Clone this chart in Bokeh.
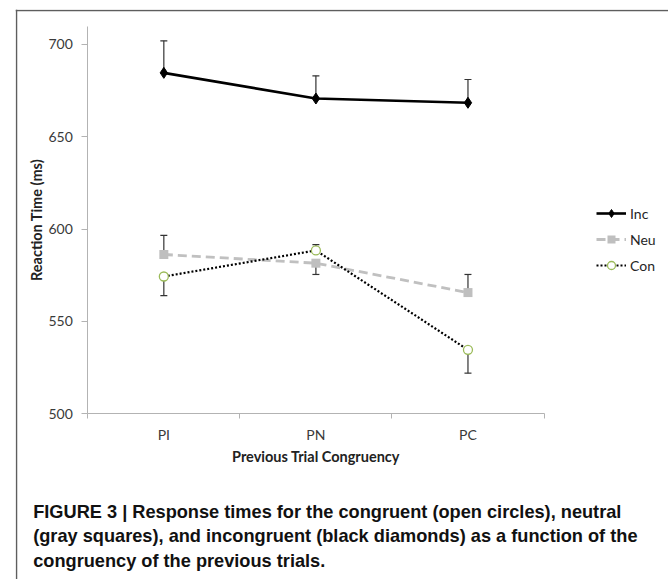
from bokeh.plotting import figure
from bokeh.models import (Range1d, FixedTicker, Whisker, TeeHead, ColumnDataSource,
                          Legend, LegendItem, Label, Span)
from bokeh.embed import file_html
from bokeh.resources import INLINE

# ---- data ----
categories = ["PI", "PN", "PC"]
inc = [684.5, 670.6, 668.3]
neu = [586.2, 581.5, 565.6]
con = [574.3, 588.4, 534.6]
inc_err_up = [17.3, 12.3, 12.6]
inc_err_down = [0, 0, 0]
neu_err_up = [10.4, 0, 9.8]
neu_err_down = [0, 6.1, 0]
con_err_up = [0, 3.1, 0]
con_err_down = [10.3, 0, 12.6]
y_ticks = [500, 550, 600, 650, 700]
y_min, y_max = 500, 709.6
series_names = ["Inc", "Neu", "Con"]
caption_lines = [
    "FIGURE 3 | Response times for the congruent (open circles), neutral",
    "(gray squares), and incongruent (black diamonds) as a function of the",
    "congruency of the previous trials.",
]

# ---- layout (pixels) ----
W, H = 668, 579
FL, FT = 15, 9                 # frame (panel border) origin
PX0, PX1 = 87.3, 543.5         # plot area left/right (page px)
PY_MIN, PY_700 = 413.3, 43.7   # page y of 500 and 700
n = len(categories)
xpx = (PX1 - PX0) / n
ypx = (PY_MIN - PY_700) / (y_ticks[-1] - y_ticks[0])
x_start = 0 - (PX0 - FL) / xpx
x_end = n + (W - PX1) / xpx
y_start = y_min - (H - PY_MIN) / ypx
y_end = y_ticks[-1] + (PY_700 - FT) / ypx

x = [i + 0.5 for i in range(n)]

FONT = "Lato"
AXIS_GRAY = "#b3b3b3"
TEXT = "#3a3a3a"

p = figure(width=W, height=H, output_backend="svg", toolbar_location=None,
           x_range=Range1d(x_start, x_end), y_range=Range1d(y_start, y_end),
           min_border_left=FL, min_border_right=0, min_border_top=FT,
           min_border_bottom=0)
p.outline_line_color = None
p.grid.visible = False

# x axis: labels at category centres, tick marks between categories
xa = p.xaxis[0]
xa.fixed_location = y_min
xa.bounds = (0, n)
xa.ticker = FixedTicker(ticks=x, minor_ticks=list(range(n + 1)))
xa.major_label_overrides = {xi: c for xi, c in zip(x, categories)}
xa.major_tick_out = 0
xa.major_tick_in = 0
xa.minor_tick_out = 5
xa.minor_tick_in = 0
xa.minor_tick_line_color = AXIS_GRAY
xa.axis_line_color = AXIS_GRAY
xa.major_label_text_font = FONT
xa.major_label_text_font_size = "14px"
xa.major_label_text_color = TEXT
xa.major_label_standoff = 7
xa.axis_label = "Previous Trial Congruency"
xa.axis_label_text_font = FONT
xa.axis_label_text_font_style = "bold"
xa.axis_label_text_font_size = "14.5px"
xa.axis_label_text_color = "#222222"
xa.axis_label_standoff = 2

ya = p.yaxis[0]
ya.fixed_location = 0
ya.bounds = (y_min, y_max)
ya.ticker = FixedTicker(ticks=y_ticks, minor_ticks=[])
ya.major_tick_out = 6
ya.major_tick_in = 0
ya.minor_tick_out = 0
ya.minor_tick_in = 0
ya.major_tick_line_color = AXIS_GRAY
ya.axis_line_color = AXIS_GRAY
ya.major_label_text_font = FONT
ya.major_label_text_font_size = "14px"
ya.major_label_text_color = TEXT
ya.major_label_standoff = 9
ya.axis_label = "Reaction Time (ms)"
ya.axis_label_text_font = FONT
ya.axis_label_text_font_style = "bold"
ya.axis_label_text_font_size = "14.5px"
ya.axis_label_text_color = "#222222"
ya.axis_label_standoff = 0

# panel border (left and top edges)
p.add_layout(Span(location=1, location_units="screen", dimension="height",
                  line_color="#5e5e5e", line_width=1.5))
p.add_layout(Span(location=H - FT - 1, location_units="screen", dimension="width",
                  line_color="#5e5e5e", line_width=1.5))

# error bars
def add_whiskers(vals, up, down):
    ub = [xi for xi, e in zip(x, up) if e > 0]
    ul = [v for v, e in zip(vals, up) if e > 0]
    uu = [v + e for v, e in zip(vals, up) if e > 0]
    if ub:
        src = ColumnDataSource(dict(base=ub, lower=ul, upper=uu))
        p.add_layout(Whisker(source=src, base="base", lower="lower", upper="upper",
                             dimension="height", line_color="#333333", line_width=1.2,
                             upper_head=TeeHead(size=7, line_color="#333333", line_width=1.2),
                             lower_head=None, level="underlay"))
    db = [xi for xi, e in zip(x, down) if e > 0]
    du = [v for v, e in zip(vals, down) if e > 0]
    dl = [v - e for v, e in zip(vals, down) if e > 0]
    if db:
        src = ColumnDataSource(dict(base=db, lower=dl, upper=du))
        p.add_layout(Whisker(source=src, base="base", lower="lower", upper="upper",
                             dimension="height", line_color="#333333", line_width=1.2,
                             lower_head=TeeHead(size=7, line_color="#333333", line_width=1.2),
                             upper_head=None, level="underlay"))

add_whiskers(inc, inc_err_up, inc_err_down)
add_whiskers(neu, neu_err_up, neu_err_down)
add_whiskers(con, con_err_up, con_err_down)

l_inc = p.line(x, inc, line_color="black", line_width=2.6)
s_inc = p.scatter(x, inc, marker="diamond", size=11, fill_color="black", line_color="black")
l_neu = p.line(x, neu, line_color="#c0c0c0", line_width=2.8, line_dash="9 5")
s_neu = p.scatter(x, neu, marker="square", size=9, fill_color="#bfbfbf", line_color=None)
l_con = p.line(x, con, line_color="black", line_width=2.2, line_dash="2 2")
s_con = p.scatter(x, con, marker="circle", size=9, fill_color="white",
                  line_color="#9bbb59", line_width=1.3)

legend = Legend(items=[
    LegendItem(label=series_names[0], renderers=[l_inc, s_inc]),
    LegendItem(label=series_names[1], renderers=[l_neu, s_neu]),
    LegendItem(label=series_names[2], renderers=[l_con, s_con]),
], location=(596 - FL, H - 203 - 72), glyph_width=30, glyph_height=20, label_height=20,
    spacing=6, padding=0, margin=0, border_line_color=None,
    background_fill_alpha=0, label_standoff=4,
    label_text_font=FONT, label_text_font_size="14px", label_text_color="#262626")
p.add_layout(legend)

# caption
baselines = [511.5, 535.8, 560.1]
for line, yb in zip(caption_lines, baselines):
    p.add_layout(Label(x=32.7 - FL, y=H - yb, x_units="screen", y_units="screen",
                       text=line, text_font="Liberation Sans", text_font_style="bold",
                       text_font_size="18.2px", text_color="#111111",
                       text_baseline="alphabetic", text_align="left"))

open("out.html", "w").write(file_html(p, INLINE))
